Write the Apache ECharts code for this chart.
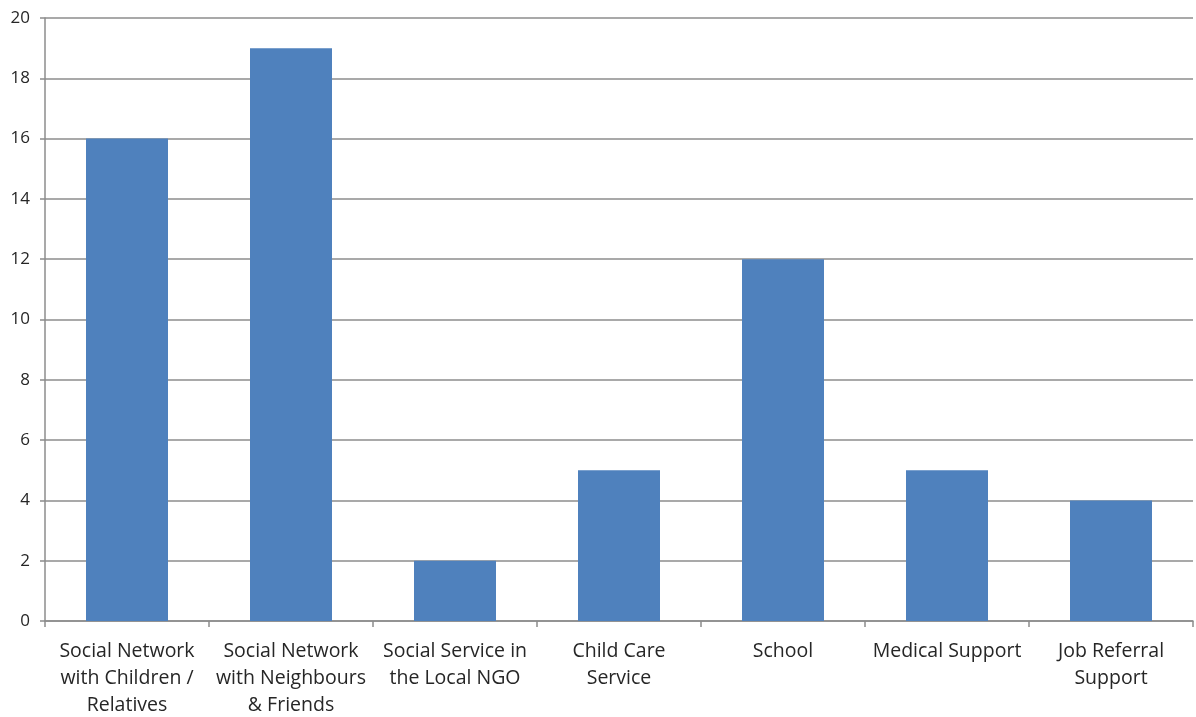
<!DOCTYPE html>
<html>
<head>
<meta charset="utf-8">
<script src="https://cdn.jsdelivr.net/npm/echarts@6/dist/echarts.min.js"></script>
<style>
  html, body { margin: 0; padding: 0; background: #fff; }
  #chart { width: 1196px; height: 717px; }
</style>
</head>
<body>
<div id="chart"></div>
<script>
// Support sources, one label per bar (line breaks as shown under the axis)
const categories = [
  'Social Network\nwith Children /\nRelatives',
  'Social Network\nwith Neighbours\n& Friends',
  'Social Service in\nthe Local NGO',
  'Child Care\nService',
  'School',
  'Medical Support',
  'Job Referral\nSupport'
];
const counts = [16, 19, 2, 5, 12, 5, 4];

const yMin = 0;
const yMax = 20;
const yStep = 2;

const chart = echarts.init(document.getElementById('chart'), null, { renderer: 'canvas' });
const axisGray = '#8c8c8c';
const textColor = '#262626';
const fontFamily = '"Open Sans", Lato, sans-serif';

chart.setOption({
  animation: false,
  backgroundColor: '#ffffff',
  grid: {
    left: 45, right: 3, top: 18, bottom: 96,
    containLabel: false,
    outerBoundsMode: 'none'
  },
  xAxis: {
    type: 'category',
    data: categories,
    axisLine: { show: true, lineStyle: { color: axisGray, width: 1.5 } },
    axisTick: { show: true, alignWithLabel: false, length: 6, lineStyle: { color: axisGray, width: 1.5 } },
    axisLabel: {
      interval: 0,
      color: textColor,
      fontFamily: fontFamily,
      fontSize: 19.5,
      lineHeight: 27,
      margin: 17,
      align: 'center'
    },
    splitLine: { show: false }
  },
  yAxis: {
    type: 'value',
    min: yMin,
    max: yMax,
    interval: yStep,
    axisLine: { show: true, lineStyle: { color: axisGray, width: 1.5 } },
    axisTick: { show: true, length: 5, lineStyle: { color: axisGray, width: 1.5 } },
    axisLabel: {
      color: textColor,
      fontFamily: fontFamily,
      fontSize: 17,
      margin: 15
    },
    splitLine: { show: true, lineStyle: { color: axisGray, width: 1.5 } }
  },
  series: [{
    type: 'bar',
    data: counts,
    barWidth: '50%',
    itemStyle: { color: '#4f81bd' }
  }]
});
</script>
</body>
</html>
